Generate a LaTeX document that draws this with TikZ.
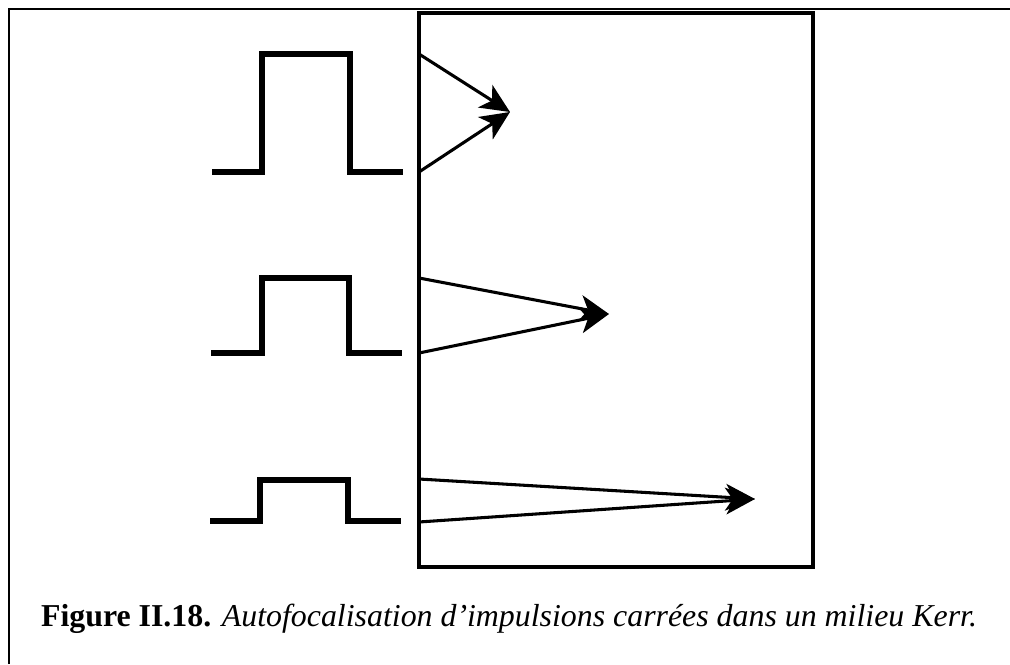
\documentclass[tikz,border=0pt]{standalone}
\usepackage{fontspec}
\setmainfont{Liberation Serif}
\usetikzlibrary{arrows.meta}

\begin{document}
\begin{tikzpicture}[x=0.75pt,y=-0.75pt,
		pulso/.style={line width=3.8pt},
		rayo/.style={line width=2.3pt,-{Stealth[length=22pt,width=20pt,inset=6pt]}}]
		\useasboundingbox (0,0) rectangle (1010,664);
		% Marco exterior
		\draw[line width=1.8pt] (9,664) -- (9,9) -- (1010,9);
		
		% Medio Kerr
		\draw[line width=3.6pt] (419,13) rectangle (813,567);
		
		% Impulsos cuadrados
		\draw[pulso] (212,172) -- (262,172) -- (262,54) -- (350,54) -- (350,172) -- (403,172);
		\draw[pulso] (211,353) -- (262,353) -- (262,278) -- (349,278) -- (349,353) -- (402,353);
		\draw[pulso] (210,521) -- (260,521) -- (260,480) -- (348,480) -- (348,521) -- (401,521);
		
		% Entradas y focos
		\coordinate (e1a) at (419,54);
		\coordinate (e1b) at (419,172);
		\coordinate (f1) at (510,112);
		\coordinate (e2a) at (419,278);
		\coordinate (e2b) at (419,353);
		\coordinate (f2) at (609,314);
		\coordinate (e3a) at (419,479);
		\coordinate (e3b) at (419,522);
		\coordinate (f3) at (755,499);
		
		% Rayos
		\draw[rayo] (e1a) -- (f1);
		\draw[rayo] (e1b) -- (f1);
		\draw[rayo] (e2a) -- (f2);
		\draw[rayo] (e2b) -- (f2);
		\draw[rayo] (e3a) -- (f3);
		\draw[rayo] (e3b) -- (f3);
		
		% Leyenda
		\node[anchor=base, inner sep=0pt] (leyenda) at (509,626) {\fontsize{23.9}{28}\selectfont\textbf{Figure II.18.} \textit{Autofocalisation d’impulsions carrées dans un milieu Kerr.}};
	\end{tikzpicture}
\end{document}
